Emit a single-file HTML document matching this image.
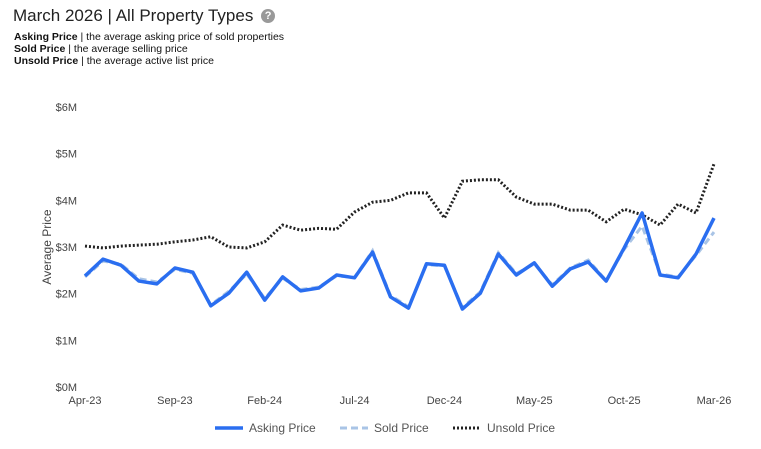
<!DOCTYPE html>
<html><head><meta charset="utf-8"><style>
body{margin:0;width:761px;height:449px;background:#fff;font-family:"Liberation Sans",Arial,sans-serif;overflow:hidden;position:relative}
#title{position:absolute;left:13px;top:6px;font-size:17px;color:#222}
#help{display:inline-block;width:14px;height:14px;border-radius:50%;background:#999;color:#fff;font-size:11px;font-weight:bold;text-align:center;line-height:14px;vertical-align:2px;margin-left:3px}
.desc{position:absolute;left:14px;font-size:10.5px;color:#111}
svg{position:absolute;left:0;top:0}
</style></head><body>
<div id="title">March 2026 | All Property Types <span id="help">?</span></div>
<div class="desc" style="top:31px"><b>Asking Price</b> | the average asking price of sold properties</div>
<div class="desc" style="top:43px"><b>Sold Price</b> | the average selling price</div>
<div class="desc" style="top:55px"><b>Unsold Price</b> | the average active list price</div>
<svg id="chart" width="761" height="449"></svg>
<script>
const months=["Apr-23","May-23","Jun-23","Jul-23","Aug-23","Sep-23","Oct-23","Nov-23","Dec-23","Jan-24","Feb-24","Mar-24","Apr-24","May-24","Jun-24","Jul-24","Aug-24","Sep-24","Oct-24","Nov-24","Dec-24","Jan-25","Feb-25","Mar-25","Apr-25","May-25","Jun-25","Jul-25","Aug-25","Sep-25","Oct-25","Nov-25","Dec-25","Jan-26","Feb-26","Mar-26"];
const asking=[2.38,2.74,2.61,2.27,2.21,2.55,2.46,1.74,2.01,2.46,1.86,2.36,2.06,2.12,2.40,2.34,2.89,1.93,1.69,2.64,2.61,1.67,2.01,2.85,2.40,2.66,2.16,2.53,2.68,2.27,2.98,3.73,2.40,2.34,2.85,3.62];
const sold=[2.36,2.70,2.63,2.32,2.25,2.52,2.44,1.76,2.05,2.42,1.90,2.33,2.09,2.14,2.38,2.35,2.92,1.96,1.72,2.62,2.60,1.70,2.04,2.88,2.43,2.64,2.19,2.55,2.72,2.28,2.95,3.45,2.42,2.36,2.82,3.32];
const unsold=[3.02,2.98,3.02,3.04,3.06,3.11,3.15,3.22,3.00,2.98,3.11,3.47,3.36,3.40,3.38,3.75,3.96,4.00,4.16,4.16,3.62,4.41,4.44,4.44,4.07,3.92,3.92,3.79,3.79,3.54,3.81,3.69,3.47,3.92,3.73,4.78];
const yTicks=[0,1,2,3,4,5,6];
const xTickIdx=[0,5,10,15,20,25,30,35];
const svg=document.getElementById('chart');const NS='http://www.w3.org/2000/svg';
const x0=85,x1=714,y0=387,y1=107;
const xs=i=>x0+(x1-x0)*i/(months.length-1);
const ys=v=>y0-(y0-y1)*v/6;
function mk(t,a,p){const e=document.createElementNS(NS,t);for(const k in a)e.setAttribute(k,a[k]);(p||svg).appendChild(e);return e;}
yTicks.forEach(v=>{const t=mk('text',{x:77,y:ys(v)+4,'text-anchor':'end','font-size':11,fill:'#444'});


t.textContent='$'+v+'M';});
xTickIdx.forEach(i=>{const t=mk('text',{x:xs(i),y:404,'text-anchor':'middle','font-size':11,fill:'#444'});


t.textContent=months[i];});
const yt=mk('text',{x:0,y:0,transform:'translate(51,247) rotate(-90)','text-anchor':'middle','font-size':12,fill:'#444'});


yt.textContent='Average Price';
function line(d,st,name){const p=mk('polyline',Object.assign({points:d.map((v,i)=>xs(i)+','+ys(v)).join(' '),fill:'none'},st));

}
line(sold,{stroke:'#a9c4e6','stroke-width':3,'stroke-dasharray':'7,4'},'sold-price-line');
line(unsold,{stroke:'#222','stroke-width':3,'stroke-dasharray':'2,2'},'unsold-price-line');
line(asking,{stroke:'#2a6ef0','stroke-width':3.5,'stroke-linejoin':'round'},'asking-price-line');
const leg=[['Asking Price',{stroke:'#2a6ef0','stroke-width':3.5},215,'legend-asking'],['Sold Price',{stroke:'#a9c4e6','stroke-width':3,'stroke-dasharray':'7,4'},340,'legend-sold'],['Unsold Price',{stroke:'#222','stroke-width':3,'stroke-dasharray':'2,2'},453,'legend-unsold']];
leg.forEach(([l,st,x,n])=>{const g=mk('g',{});


mk('line',Object.assign({x1:x,x2:x+28,y1:428,y2:428},st),g);
const t=mk('text',{x:x+34,y:432,'font-size':12,fill:'#555'},g);t.textContent=l;});
</script>
</body></html>
